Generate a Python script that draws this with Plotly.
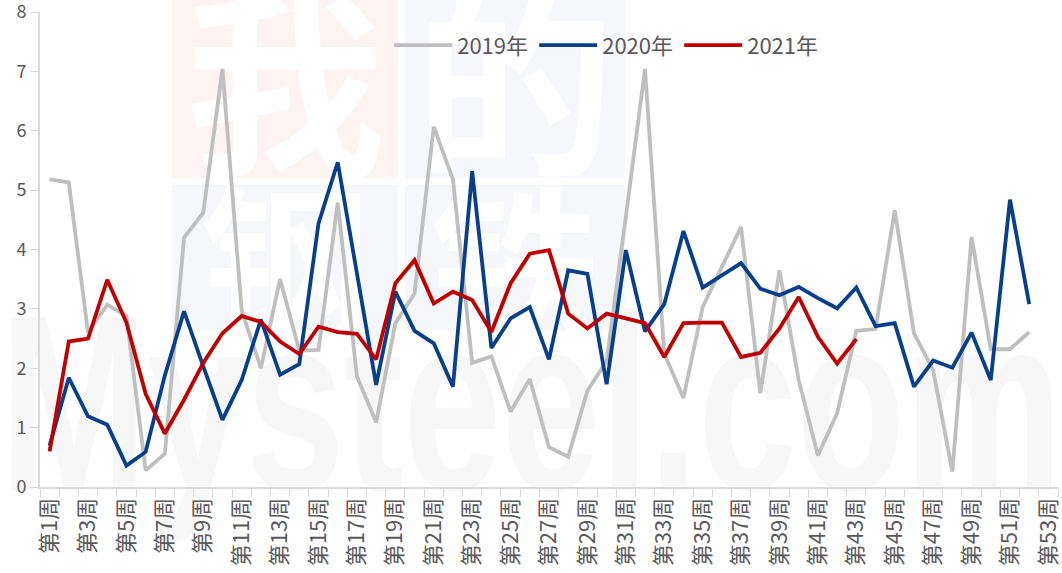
import base64
import plotly.graph_objects as go

weeks = [f"第{i}周" for i in range(1, 54)]

y2019 = [5.18, 5.13, 2.6, 3.07, 2.88, 0.28, 0.56, 4.2, 4.62, 7.04,
         2.97, 2.0, 3.5, 2.3, 2.31, 4.79, 1.86, 1.09, 2.76, 3.26,
         6.07, 5.18, 2.09, 2.2, 1.27, 1.82, 0.67, 0.51, 1.62, 2.12,
         4.55, 7.04, 2.25, 1.5, 3.03, 3.69, 4.38, 1.58, 3.65, 1.8,
         0.53, 1.24, 2.63, 2.66, 4.66, 2.59, 1.97, 0.26, 4.21, 2.32,
         2.32, 2.61]
y2020 = [0.7, 1.84, 1.19, 1.05, 0.36, 0.59, 1.88, 2.96, 2.03, 1.13,
         1.8, 2.82, 1.89, 2.07, 4.44, 5.47, 3.6, 1.72, 3.29, 2.63,
         2.42, 1.69, 5.32, 2.34, 2.84, 3.03, 2.15, 3.65, 3.59, 1.73,
         3.99, 2.62, 3.08, 4.31, 3.36, 3.57, 3.77, 3.34, 3.23, 3.37,
         3.18, 3.01, 3.36, 2.71, 2.76, 1.69, 2.13, 2.01, 2.6, 1.8,
         4.84, 3.08]
y2021 = [0.6, 2.45, 2.5, 3.49, 2.77, 1.57, 0.9, 1.47, 2.09, 2.59,
         2.88, 2.78, 2.45, 2.24, 2.7, 2.61, 2.58, 2.15, 3.43, 3.82,
         3.09, 3.29, 3.15, 2.61, 3.43, 3.93, 3.99, 2.92, 2.67, 2.92,
         2.84, 2.76, 2.19, 2.76, 2.77, 2.77, 2.19, 2.26, 2.67, 3.2,
         2.53, 2.08, 2.49]
y_ticks = [0, 1, 2, 3, 4, 5, 6, 7, 8]

series = [("2019年", y2019, "#bfbfbf"),
          ("2020年", y2020, "#073f8c"),
          ("2021年", y2021, "#c00000")]

W, H = 1062, 573
L, R, T, B = 40, 4, 12, 86
PW, PH = W - L - R, H - T - B

# faint background watermark (我的钢铁 Mysteel.com)
svg = f'''<svg xmlns="http://www.w3.org/2000/svg" width="{W}" height="{H}" viewBox="0 0 {W} {H}">
<rect x="172" y="0" width="226" height="178" fill="#fdf3f3"/>
<rect x="405" y="0" width="220" height="178" fill="#f6f7fb"/>
<rect x="172" y="185" width="226" height="145" fill="#f6f7fb"/>
<rect x="405" y="185" width="220" height="145" fill="#f6f7fb"/>
<text x="285" y="160" font-size="200" font-weight="bold" fill="#ffffff" text-anchor="middle" font-family="Noto Sans CJK SC">我</text>
<text x="515" y="160" font-size="200" font-weight="bold" fill="#ffffff" text-anchor="middle" font-family="Noto Sans CJK SC">的</text>
<text x="285" y="330" font-size="170" font-weight="bold" fill="#ffffff" text-anchor="middle" font-family="Noto Sans CJK SC">钢</text>
<text x="515" y="330" font-size="170" font-weight="bold" fill="#ffffff" text-anchor="middle" font-family="Noto Sans CJK SC">铁</text>
<text x="0" y="490" font-size="250" font-weight="bold" fill="#f7f7f7" font-family="Liberation Sans" textLength="1062" lengthAdjust="spacingAndGlyphs">Mysteel.com</text>
</svg>'''
svg_uri = "data:image/svg+xml;base64," + base64.b64encode(svg.encode("utf-8")).decode()

fig = go.Figure()
for name, vals, color in series:
    fig.add_trace(go.Scatter(x=weeks[:len(vals)], y=vals, mode="lines", name=name,
                             line=dict(color=color, width=3.8)))

ticktext = [w if i % 2 == 0 else "" for i, w in enumerate(weeks)]
font_family = "Noto Sans CJK SC, Noto Sans, sans-serif"

fig.add_layout_image(dict(source=svg_uri, xref="paper", yref="paper",
                          x=-L / PW, y=1 + T / PH, sizex=W / PW, sizey=H / PH,
                          xanchor="left", yanchor="top", sizing="stretch", layer="below"))

fig.update_layout(
    width=W, height=H,
    margin=dict(l=L, r=R, t=T, b=B),
    paper_bgcolor="white", plot_bgcolor="rgba(0,0,0,0)",
    font=dict(family=font_family, color="#595959"),
    showlegend=True,
    legend=dict(orientation="h", x=0.343, y=0.93, xanchor="left", yanchor="middle",
                itemwidth=58, entrywidth=72, entrywidthmode="pixels",
                font=dict(size=22, color="#595959"), bgcolor="rgba(0,0,0,0)"),
    xaxis=dict(type="category", categoryorder="array", categoryarray=weeks,
               range=[-0.5, len(weeks) - 0.5], automargin=False,
               tickmode="array", tickvals=weeks, ticktext=ticktext,
               tickson="boundaries", ticks="outside", ticklen=8, tickcolor="#d9d9d9",
               showline=True, linecolor="#d9d9d9", linewidth=2,
               showgrid=False, tickangle=-90, tickfont=dict(size=22, color="#595959")),
    yaxis=dict(range=[0, 8.0001], tickmode="array", tickvals=y_ticks, automargin=False,
               showgrid=False, zeroline=False, ticklabeloverflow="allow",
               showline=True, linecolor="#d9d9d9", linewidth=2,
               ticks="outside", ticklen=8, tickcolor="#d9d9d9",
               tickfont=dict(size=18, color="#595959")),
)

fig.write_html("out.html", config={"displayModeBar": False},
               post_script="document.body.style.margin='0px';")
